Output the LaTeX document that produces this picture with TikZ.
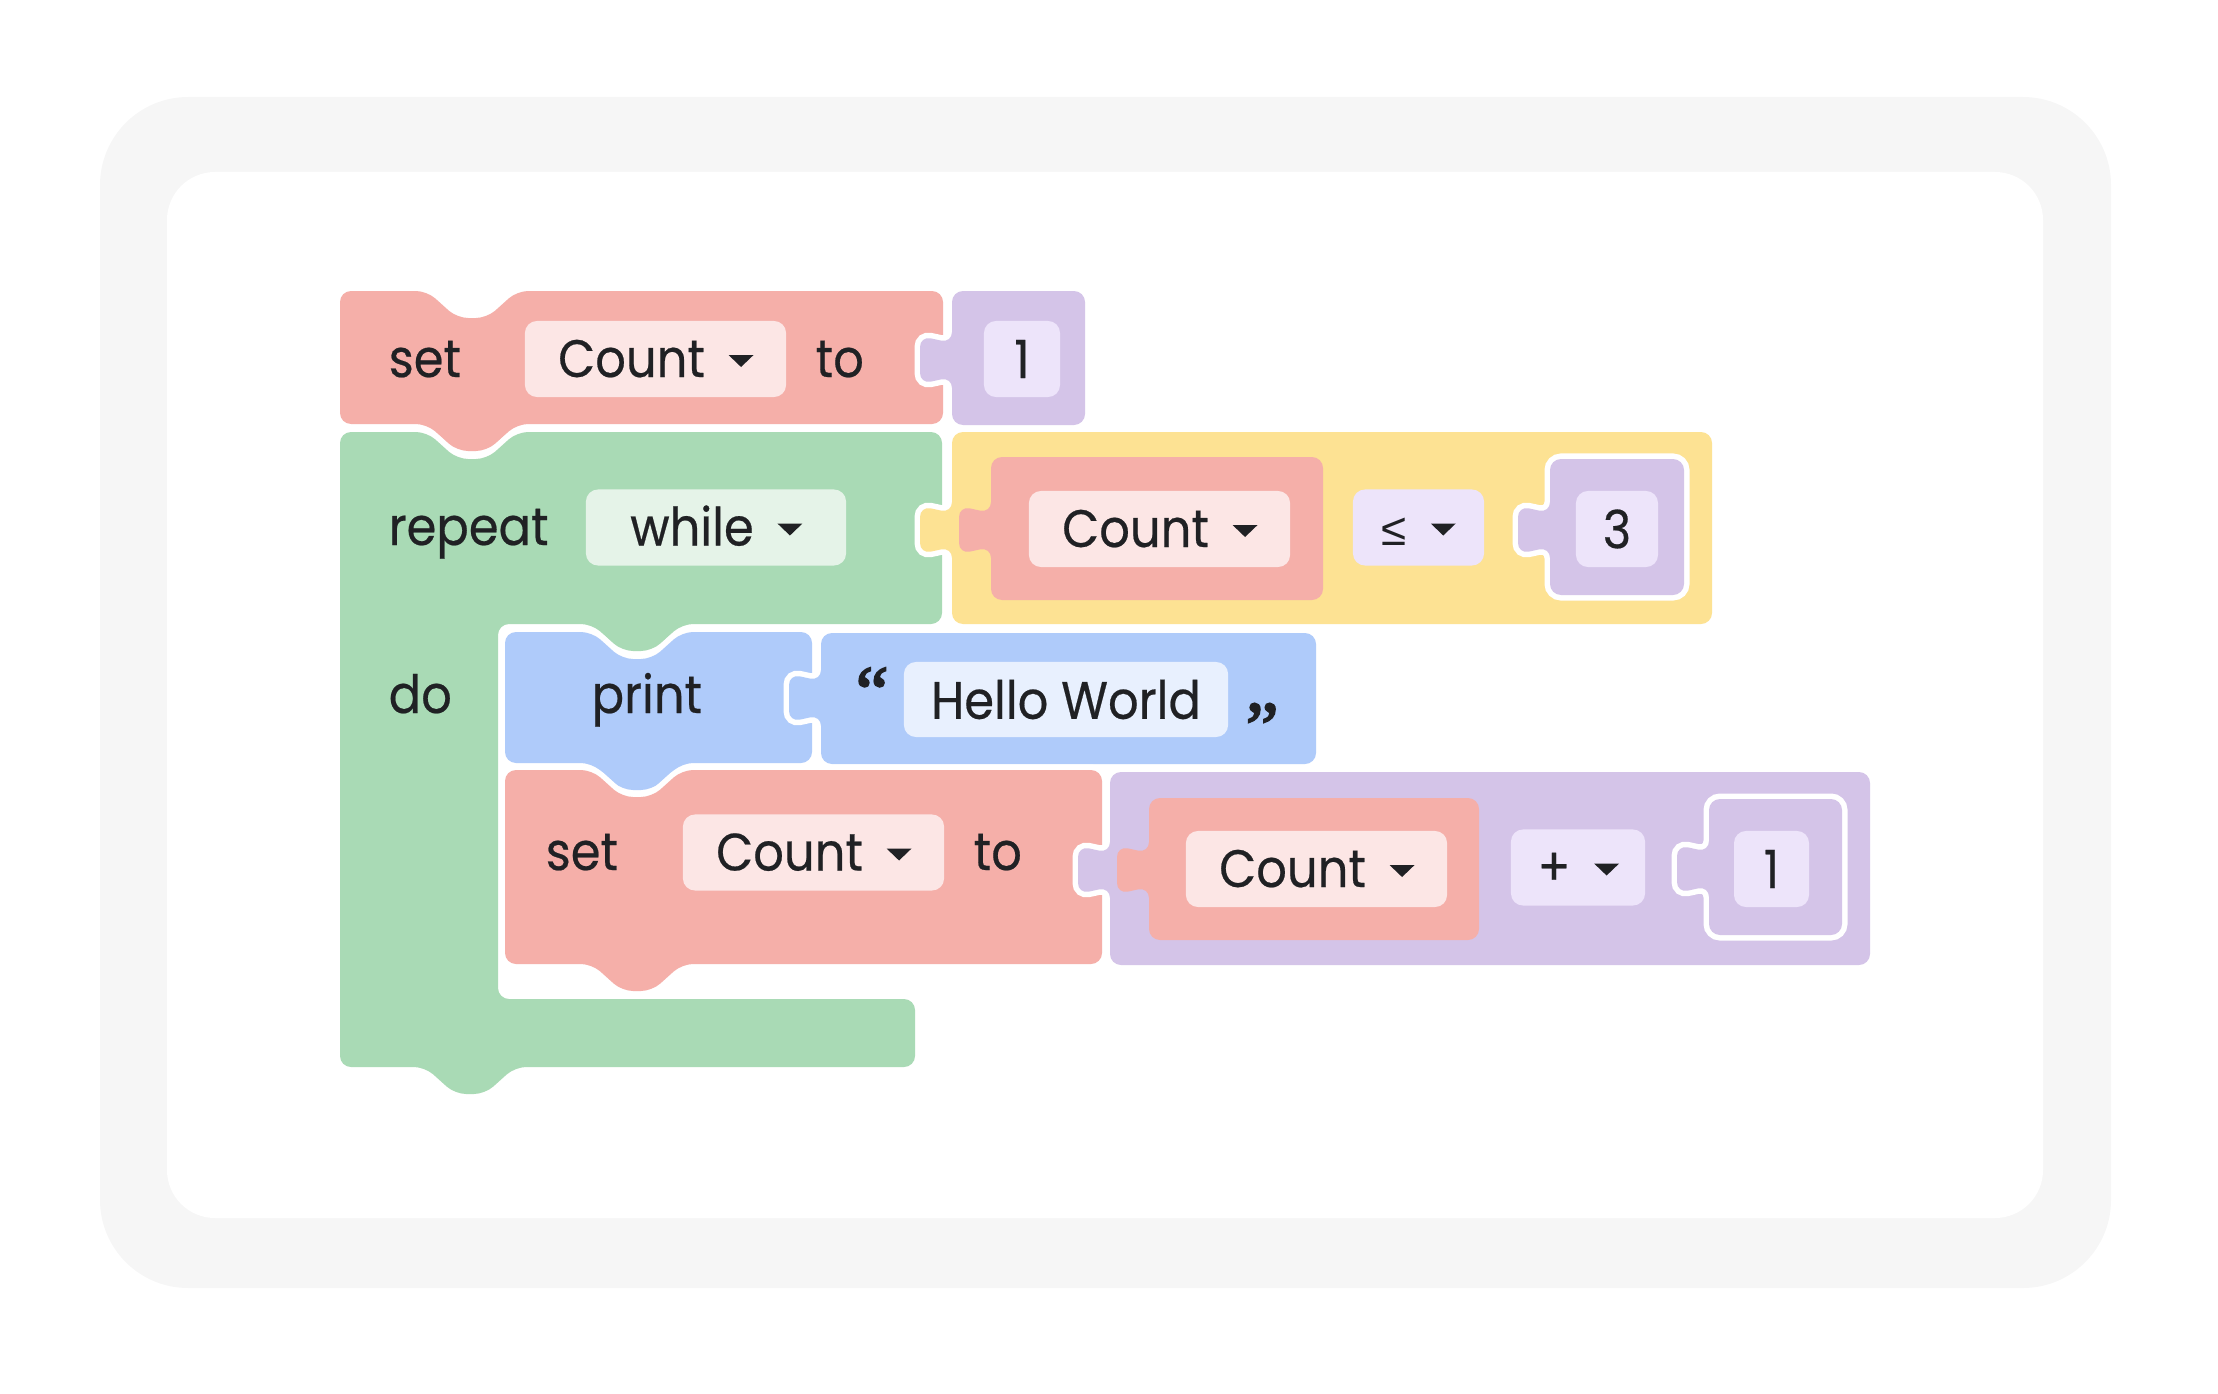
\documentclass[tikz,border=0pt]{standalone}
\usepackage{fontspec}
\setmainfont{Poppins}[FakeStretch=0.91, FakeBold=0.4]
\newfontfamily\symfont{Liberation Sans}
\newfontfamily\quotefont{Liberation Serif}[FakeBold=2.5]
\usepackage{xcolor}
\usetikzlibrary{calc}
\definecolor{framegray}{HTML}{F6F6F6}
\definecolor{ink}{HTML}{202124}
\definecolor{redblk}{HTML}{F5AFA9}
\definecolor{redlt}{HTML}{FCE6E5}
\definecolor{greenblk}{HTML}{A9DAB5}
\definecolor{greenlt}{HTML}{E5F3E8}
\definecolor{yellowblk}{HTML}{FDE293}
\definecolor{blueblk}{HTML}{AFCBFA}
\definecolor{bluelt}{HTML}{E8F0FE}
\definecolor{purpleblk}{HTML}{D4C4E8}
\definecolor{purplelt}{HTML}{EDE4FA}

\begin{document}
\begin{tikzpicture}[x=0.01cm, y=-0.01cm,
  blk/.style={rounded corners=1.1mm, line join=round},
  halo/.style={preaction={draw=white, line width=1.1mm}},
  notch/.style 2 args={insert path={-- (#1,#2) -- ++(30,27) -- ++(30,0) -- ++(30,-27)}},
  tab/.style 2 args={insert path={-- (#1+90,#2) -- ++(-30,27) -- ++(-30,0) -- ++(-30,-27)}},
  outtab/.style 2 args={insert path={-- (#1,#2+17) -- ++(-32,7) -- ++(0,-48) -- ++(32,7)}},
  field/.style={fill=#1, rounded corners=1.2mm, inner sep=0pt, minimum height=7.6mm},
  lbl/.style={inner sep=0pt, text=ink, font=\fontsize{15}{18}\selectfont},
  val/.style={field=#1, lbl},
  quote/.style={lbl, anchor=base west, font=\quotefont\fontsize{21}{23}\selectfont},
  arrowtip/.style={fill=ink}]
\useasboundingbox (0,0) rectangle (2218,1394);
% frame
\fill[framegray, rounded corners=8.8mm] (100,97) rectangle (2111,1288);
\fill[white, rounded corners=4.8mm] (167,172) rectangle (2043,1218);

% set Count to 1
\fill[blk, halo, redblk] (340,360) -- (340,291) [notch={427}{291}] -- (943,291) -- (943,424) [tab={427}{424}] -- (340,424) -- cycle;
\fill[blk, halo, purpleblk] (1085,360) -- (1085,425) -- (952,425) [outtab={952}{360}] -- (952,291) -- (1085,291) -- cycle;

% repeat while
\fill[blk, halo, greenblk] (340,700) -- (340,432) [notch={427}{432}] -- (942,432) -- (942,624) [tab={592}{624}] -- (498,624) -- (498,999) -- (915,999) -- (915,1067) [tab={425}{1067}] -- (340,1067) -- cycle;
\fill[blk, halo, yellowblk] (1712,530) -- (1712,624) -- (952,624) [outtab={952}{530}] -- (952,432) -- (1712,432) -- cycle;
\fill[blk, redblk] (1323,530) -- (1323,600) -- (991,600) [outtab={991}{530}] -- (991,457) -- (1323,457) -- cycle;
\fill[blk, halo, purpleblk] (1684,530) -- (1684,595) -- (1550,595) [outtab={1550}{530}] -- (1550,459) -- (1684,459) -- cycle;

% print
\fill[blk, halo, blueblk] (505,700) -- (505,632) [notch={592}{632}] -- (812,632) -- (812,763) [tab={592}{763}] -- (505,763) -- cycle;
\fill[blk, halo, blueblk] (1316,698) -- (1316,764) -- (821,764) [outtab={821}{698}] -- (821,633) -- (1316,633) -- cycle;

% set Count to Count + 1
\fill[blk, halo, redblk] (505,870) -- (505,770) [notch={592}{770}] -- (1102,770) -- (1102,964) [tab={592}{964}] -- (505,964) -- cycle;
\fill[blk, halo, purpleblk] (1870,870) -- (1870,965) -- (1110,965) [outtab={1110}{870}] -- (1110,772) -- (1870,772) -- cycle;
\fill[blk, redblk] (1479,870) -- (1479,940) -- (1149,940) [outtab={1149}{870}] -- (1149,798) -- (1479,798) -- cycle;
\fill[blk, halo, purpleblk] (1842,869) -- (1842,935) -- (1709,935) [outtab={1709}{869}] -- (1709,799) -- (1842,799) -- cycle;

% labels
\node[lbl, anchor=base west] (set1) at (388,377) {set};
\node[lbl, anchor=base west] (to1) at (815,377) {to};
\node[lbl, anchor=base west] (rep) at (388,545) {repeat};
\node[lbl, anchor=base west] (do) at (388,713) {do};
\node[lbl, anchor=base west] (prt) at (591,713) {print};
\node[lbl, anchor=base west] (set2) at (545,870) {set};
\node[lbl, anchor=base west] (to2) at (973,870) {to};

% dropdowns
\node[field=redlt, minimum width=26.1mm] (var1) at (655.5,359) {};
\node[lbl, anchor=base] (var1t) at ($(var1.center)+(-24,18)$) {Count};
\fill[arrowtip] ($(var1t.base east)+(23,-22)$) -- ++(25,0) -- ++(-12.5,12) -- cycle;
\node[field=greenlt, minimum width=26.0mm] (mode) at (716,527.5) {};
\node[lbl, anchor=base] (modet) at ($(mode.center)+(-24,18)$) {while};
\fill[arrowtip] ($(modet.base east)+(23,-22)$) -- ++(25,0) -- ++(-12.5,12) -- cycle;
\node[field=redlt, minimum width=26.1mm] (var2) at (1159.5,529) {};
\node[lbl, anchor=base] (var2t) at ($(var2.center)+(-24,18)$) {Count};
\fill[arrowtip] ($(var2t.base east)+(23,-22)$) -- ++(25,0) -- ++(-12.5,12) -- cycle;
\node[field=purplelt, minimum width=13.1mm] (cmp) at (1418.5,527.5) {};
\node[lbl, anchor=base] (cmpt) at ($(cmp.center)+(-24,18)$) {\symfont\fontsize{13}{15}\selectfont ≤};
\fill[arrowtip] ($(cmpt.base east)+(23,-22)$) -- ++(25,0) -- ++(-12.5,12) -- cycle;
\node[field=redlt, minimum width=26.1mm] (var3) at (813.5,852.5) {};
\node[lbl, anchor=base] (var3t) at ($(var3.center)+(-24,18)$) {Count};
\fill[arrowtip] ($(var3t.base east)+(23,-22)$) -- ++(25,0) -- ++(-12.5,12) -- cycle;
\node[field=redlt, minimum width=26.1mm] (var4) at (1316.5,869) {};
\node[lbl, anchor=base] (var4t) at ($(var4.center)+(-24,18)$) {Count};
\fill[arrowtip] ($(var4t.base east)+(23,-22)$) -- ++(25,0) -- ++(-12.5,12) -- cycle;
\node[field=purplelt, minimum width=13.4mm] (op) at (1578,867.5) {};
\node[lbl, anchor=base] (opt) at ($(op.center)+(-24,18)$) {+};
\fill[arrowtip] ($(opt.base east)+(23,-22)$) -- ++(25,0) -- ++(-12.5,12) -- cycle;

% values
\node[val=purplelt, minimum width=7.6mm] (one1) at (1022,359) {1};
\node[val=purplelt, minimum width=8.2mm] (three) at (1617,529) {3};
\node[val=purplelt, minimum width=7.5mm] (one2) at (1771.5,869) {1};
\node[val=bluelt, minimum width=32.4mm, minimum height=7.5mm] (txt) at (1066,699.5) {Hello World};
\node[quote] (oq) at (855,717) {“};
\node[quote] (cq) at (1245,711) {„};
\end{tikzpicture}
\end{document}
